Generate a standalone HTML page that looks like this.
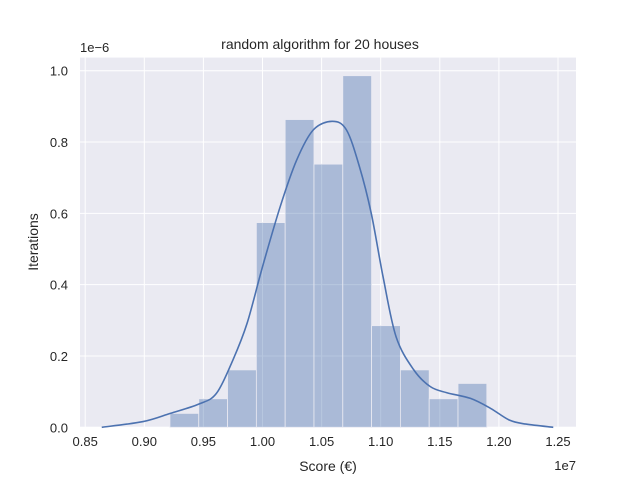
<!DOCTYPE html>
<html><head><meta charset="utf-8"><style>
body{margin:0;background:#fff;}
svg{display:block;font-family:"Liberation Sans",sans-serif;}
</style></head><body>
<svg id="chart" width="640" height="480">
<rect x="80" y="57.6" width="496" height="369.6" fill="#eaeaf2"/>
<g id="grid"></g><g id="bars"></g><g id="kde"></g><g id="ticks"></g>
<text x="320" y="49" text-anchor="middle" font-size="14" fill="#262626">random algorithm for 20 houses</text>
<text x="80" y="52" font-size="13" fill="#262626">1e−6</text>
<text x="576" y="470" text-anchor="end" font-size="13" fill="#262626">1e7</text>
<text x="328" y="471" text-anchor="middle" font-size="14" fill="#262626">Score (€)</text>
<text x="38" y="242" text-anchor="middle" font-size="14" fill="#262626" transform="rotate(-90 38 242)">Iterations</text>
</svg>
<script>
const binStart = 0.9217;
const binWidth = 0.02437;
const binHeights = [0.039,0.080,0.161,0.574,0.863,0.738,0.986,0.285,0.161,0.080,0.123];
const kdeX = [0.864,0.899,0.922,0.946,0.961,0.975,0.987,1.000,1.015,1.029,1.043,1.059,1.071,1.082,1.092,1.102,1.113,1.128,1.142,1.156,1.176,1.193,1.209,1.223,1.246];
const kdeY = [0,0.016,0.039,0.065,0.095,0.189,0.292,0.450,0.619,0.750,0.834,0.858,0.834,0.731,0.600,0.422,0.254,0.161,0.114,0.097,0.081,0.053,0.020,0.009,0];
const xTicks = [0.85,0.90,0.95,1.00,1.05,1.10,1.15,1.20,1.25];
const xTickLabels = ["0.85","0.90","0.95","1.00","1.05","1.10","1.15","1.20","1.25"];
const yTicks = [0,0.2,0.4,0.6,0.8,1.0];
const yTickLabels = ["0.0","0.2","0.4","0.6","0.8","1.0"];
const NS="http://www.w3.org/2000/svg";
const xs = v => 85.2 + (v-0.85)/0.05*59.1;
const ys = v => 427.3 - v*356.6;
function mk(t,a,p){const e=document.createElementNS(NS,t);for(const k in a)e.setAttribute(k,a[k]);p.appendChild(e);return e;}
const grid=document.getElementById('grid'),ticks=document.getElementById('ticks');
xTicks.forEach((v,i)=>{
  const l=mk('line',{x1:xs(v),x2:xs(v),y1:57.6,y2:427.2,stroke:'#fff','stroke-width':1},grid);
  
  
  const t=mk('text',{x:xs(v),y:446,'text-anchor':'middle','font-size':13,fill:'#262626'},ticks);
  t.textContent=xTickLabels[i];
  
  
});
yTicks.forEach((v,i)=>{
  const l=mk('line',{x1:80,x2:576,y1:ys(v),y2:ys(v),stroke:'#fff','stroke-width':1},grid);
  
  
  const t=mk('text',{x:68,y:ys(v)+5,'text-anchor':'end','font-size':13,fill:'#262626'},ticks);
  t.textContent=yTickLabels[i];
  
  
});
const bars=document.getElementById('bars');
binHeights.forEach((h,i)=>{
  const x0=xs(binStart+i*binWidth),x1=xs(binStart+(i+1)*binWidth);
  const r=mk('rect',{x:x0,y:ys(h),width:x1-x0,height:ys(0)-ys(h),fill:'#4c72b0','fill-opacity':0.4,stroke:'#eaeaf2','stroke-width':0.8},bars);
  
  
});
const pts=kdeX.map((v,i)=>[xs(v),ys(kdeY[i])]);
let d='M'+pts[0][0]+','+pts[0][1];
for(let i=0;i<pts.length-1;i++){
  const p0=pts[Math.max(0,i-1)],p1=pts[i],p2=pts[i+1],p3=pts[Math.min(pts.length-1,i+2)];
  d+=' C'+(p1[0]+(p2[0]-p0[0])/6)+','+(p1[1]+(p2[1]-p0[1])/6)+' '+(p2[0]-(p3[0]-p1[0])/6)+','+(p2[1]-(p3[1]-p1[1])/6)+' '+p2[0]+','+p2[1];
}
const k=mk('path',{d:d,fill:'none',stroke:'#4c72b0','stroke-width':1.6},document.getElementById('kde'));


</script>
</body></html>
